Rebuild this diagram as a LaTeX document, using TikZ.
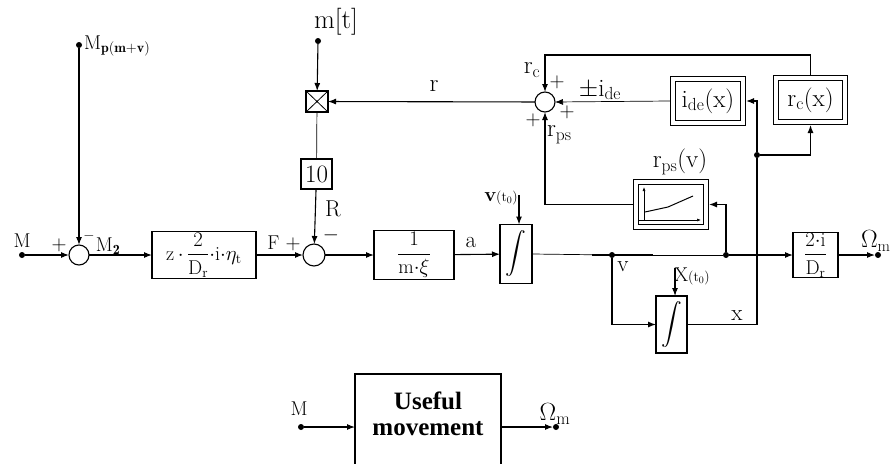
\documentclass[tikz,border=0pt]{standalone}
\usepackage{amsmath}
\usepackage{fontspec}
\usetikzlibrary{arrows.meta,calc}
\newfontfamily\timesfont{Liberation Serif}
\begin{document}
\begin{tikzpicture}[x=1pt,y=-1pt,
  every node/.style={inner sep=0pt,outer sep=0pt},
  ln/.style={line width=1.1pt},
  thinln/.style={line width=0.7pt},
  arr/.style={ln,-{Latex[length=8pt,width=6pt]}},
  blk/.style={draw,line width=1.1pt},
  sumc/.style={draw,circle,line width=1.1pt,minimum size=#1},
  dot/.style={circle,fill,minimum size=6pt},
  dbl/.style={draw,line width=1.1pt,double,double distance=3.8pt,outer sep=3pt},
  lab/.style={font=\fontsize{20}{22}\selectfont},
  mid/.style={font=\fontsize{23}{25}\selectfont},
  big/.style={font=\fontsize{25}{27}\selectfont},
]
\useasboundingbox (0,0) rectangle (893,463);

% ---- main chain nodes
\node[dot] (Md) at (22,255) {};
\node[dot] (Mpd) at (79,45) {};
\node[sumc=20pt] (s1) at (79,255) {};
\node[blk,minimum width=104pt,minimum height=47pt] (zb) at (204,255)
  {\fontsize{20}{22}\selectfont$\mathrm{z}\,{\cdot}\,\dfrac{2}{\mathrm{D_r}}{\cdot}\mathrm{i}{\cdot}\eta_{\mathrm{t}}$};
\node[sumc=22pt] (s2) at (314,255) {};
\node[dot] (mtd) at (318,41) {};
\node[blk,minimum width=22pt,minimum height=21pt] (mult) at (317,101.5) {};
\draw[line width=0.8pt] (mult.north west) -- (mult.south east) (mult.north east) -- (mult.south west);
\node[blk,minimum width=31pt,minimum height=30pt,big] (ten) at (316.5,174) {10};
\node[blk,minimum width=80pt,minimum height=49pt] (mb) at (414,255)
  {\fontsize{20}{22}\selectfont$\dfrac{1}{\mathrm{m}{\cdot}\xi}$};
\node[blk,minimum width=32pt,minimum height=59pt] (i1) at (516,254)
  {\fontsize{20}{22}\selectfont$\displaystyle\int$};
\node[blk,minimum width=45pt,minimum height=44pt] (gb) at (815.5,255)
  {\fontsize{20}{22}\selectfont$\dfrac{2{\cdot}\mathrm{i}}{\mathrm{D_r}}$};
\node[dot] (om) at (878,255) {};
\node[dot] (vd) at (612,255) {};
\node[dot] (rd) at (726,255) {};
\node[blk,minimum width=31pt,minimum height=57pt] (i2) at (671.5,324.5)
  {\fontsize{20}{22}\selectfont$\displaystyle\int$};
\node[dot] (xd) at (757,155) {};
\node[sumc=20pt] (s3) at (545,102) {};
\node[dbl,minimum width=70pt,minimum height=44.5pt,big] (ide) at (708,101) {$\mathrm{i_{de}(x)}$};
\node[dbl,minimum width=69pt,minimum height=44pt,big] (rc) at (810.5,100) {$\mathrm{r_c(x)}$};
\node[dbl,minimum width=70pt,minimum height=45pt] (rps) at (671,204.5) {};
\coordinate (v0) at (519,195);
\coordinate (x0) at (675,268);

% graph icon in rps box
\draw[line width=0.6pt,-{Latex[length=4pt,width=3pt]}] (644,220) -- (644,187);
\draw[line width=0.6pt,-{Latex[length=4pt,width=3pt]}] (639,220) -- (701,220);
\draw[line width=1pt] (645,212) -- (668,207) -- (693,196);

% ---- connectors
\draw[arr] (Md) -- (s1);
\draw[arr] (Mpd) -- (s1);
\draw[arr] (s1) -- (zb);
\draw[arr] (zb) -- (s2);
\draw[arr] (mtd) -- (mult);
\draw[arr] (s3) -- (mult);
\draw[thinln] (mult) -- (ten);
\draw[arr] (ten) -- (s2);
\draw[arr] (s2) -- (mb);
\draw[arr] (mb) -- (i1);
\draw[arr] (v0) -- (i1.north -| v0);
\draw[thinln] (i1.east) -- (vd);
\draw[line width=1.8pt] (592,255) -- (653,255);
\draw[thinln] (vd) -- (rd);
\draw[arr] (rd) -- (gb);
\draw[arr] (gb) -- (om);
\draw[arr] (rd) |- (rps.east);
\draw[arr] (rps.west) -| (s3.south);
\draw[arr] (vd) |- (i2.west);
\draw[arr] (x0) -- (i2.north -| x0);
\draw[ln] (i2.east) -| (xd);
\draw[arr] (xd) |- (ide.east);
\draw[arr] (xd) -| (rc.south);
\draw[arr] (rc.north) -- ++(0,-20) -| (s3.north);
\draw[thinln,-{Latex[length=8pt,width=6pt]}] (ide.west) -- (s3.east);

% ---- labels
\node[lab] at (22,241) {M};
\node[lab] at (59,245) {$+$};
\node[lab] at (89,236) {$\scriptstyle -$};
\node[lab] at (108,246) {M$_{\mathbf{2}}$};
\node[lab,anchor=west] at (84,46) {M$_{\mathbf{p(m+v)}}$};
\node[lab] at (284,243) {F $+$};
\node[mid] at (333,209) {R};
\node[lab] at (331,235) {$-$};
\node[font=\fontsize{27}{29}\selectfont] at (336,22) {m[t]};
\node[big] at (434,86) {r};
\node[big] at (532,70) {$\mathrm{r_c}$};
\node[lab] at (557,82) {$+$};
\node[big] at (600,90) {$\pm\mathrm{i_{de}}$};
\node[lab] at (567,112) {$+$};
\node[lab] at (533,120) {$+$};
\node[big,anchor=north west] at (547,126) {$\mathrm{r_{ps}}$};
\node[big] at (680,162) {$\mathrm{r_{ps}(v)}$};
\node[mid] at (471,243) {a};
\node[lab] at (501,198) {\textbf{v}\fontsize{14}{16}\selectfont(t$_0$)};
\node[mid] at (623,267) {v};
\node[lab] at (692,276) {X\fontsize{14}{16}\selectfont(t$_0$)};
\node[mid] at (737,316) {x};
\node[mid,anchor=west] at (861,241) {$\Omega_{\mathrm{m}}$};

% ---- bottom block
\node[dot] (Md2) at (301,427) {};
\node[draw,line width=1.1pt,minimum width=146pt,minimum height=120pt] (ub) at (428,434) {};
\node[font=\timesfont\bfseries\fontsize{25}{26}\selectfont,align=center] at (428,414) {Useful\\movement};
\node[dot] (om2) at (556,427) {};
\draw[arr] (Md2) -- (Md2 -| ub.west);
\draw[arr] (Md2 -| ub.east) -- (om2);
\node[lab] at (299,409) {M};
\node[big] at (555,414) {$\Omega_{\mathrm{m}}$};
\end{tikzpicture}
\end{document}
